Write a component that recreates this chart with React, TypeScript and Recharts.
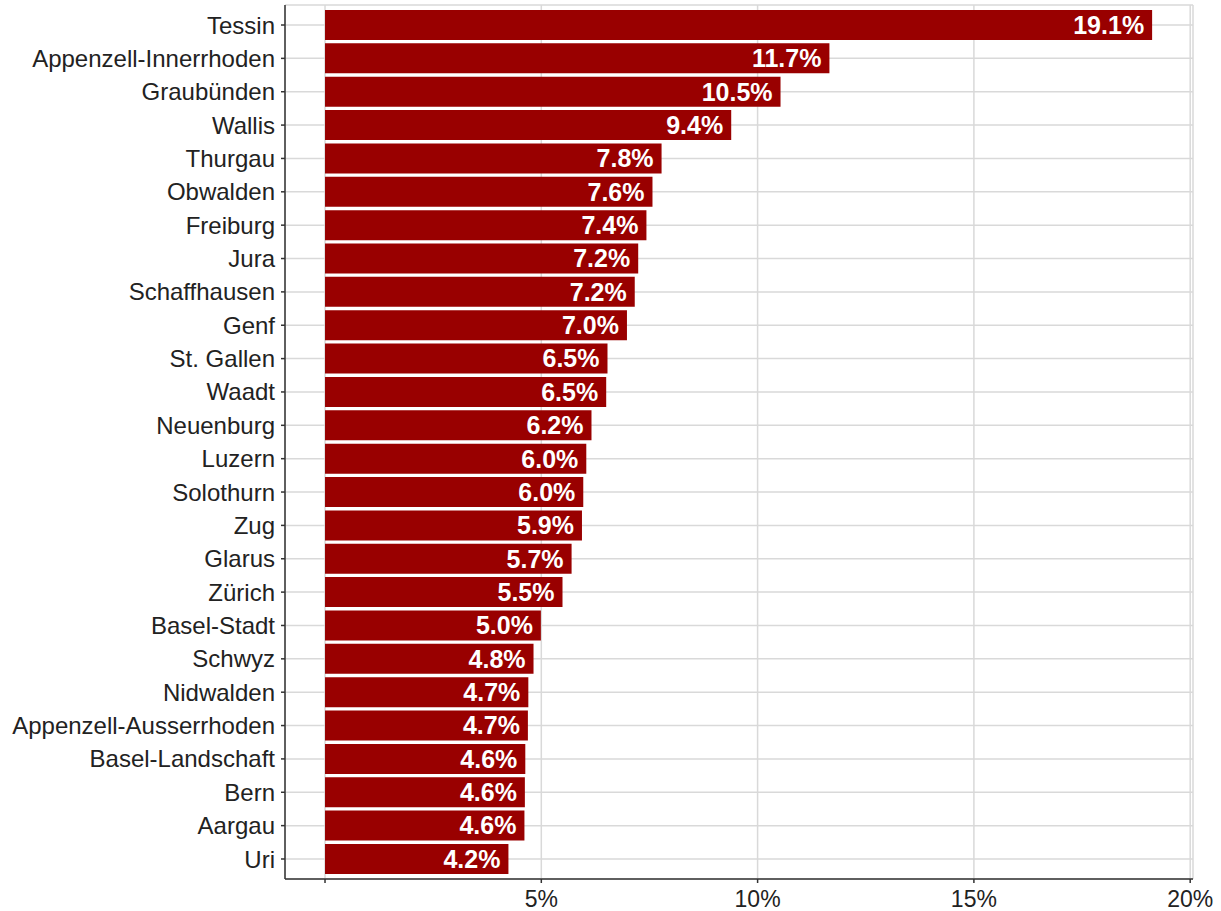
import React from 'react';
import { BarChart, Bar, XAxis, YAxis, CartesianGrid, LabelList } from 'recharts';

const cantons = [
  'Tessin', 'Appenzell-Innerrhoden', 'Graubünden', 'Wallis', 'Thurgau', 'Obwalden',
  'Freiburg', 'Jura', 'Schaffhausen', 'Genf', 'St. Gallen', 'Waadt', 'Neuenburg',
  'Luzern', 'Solothurn', 'Zug', 'Glarus', 'Zürich', 'Basel-Stadt', 'Schwyz',
  'Nidwalden', 'Appenzell-Ausserrhoden', 'Basel-Landschaft', 'Bern', 'Aargau', 'Uri',
];

const shares = [
  19.12, 11.66, 10.53, 9.39, 7.78, 7.57,
  7.43, 7.24, 7.16, 6.98, 6.53, 6.5, 6.16,
  6.04, 5.97, 5.94, 5.7, 5.49, 4.99, 4.82,
  4.7, 4.69, 4.63, 4.62, 4.61, 4.24,
];

const xTicks = [0, 5, 10, 15, 20];

const data = cantons.map((name, i) => ({ name, value: shares[i] }));

const FONT = '"Liberation Sans", Arial, sans-serif';

export default function App() {
  return (
    <div style={{ position: 'absolute', left: 0, top: 0, width: 1221, height: 911, background: '#fff' }}>
      <BarChart
        width={1221}
        height={911}
        data={data}
        layout="vertical"
        margin={{ top: 5, right: 28, bottom: 0, left: 0 }}
        barCategoryGap="5%"
      >
        <CartesianGrid stroke="#d9d9d9" strokeWidth={1.5} />
        <XAxis
          type="number"
          domain={[-0.925, 20.065]}
          allowDataOverflow
          ticks={xTicks}
          interval={0}
          tickFormatter={(v: number) => (v === 0 ? '' : `${v}%`)}
          height={32}
          tickSize={4}
          tickMargin={8}
          axisLine={{ stroke: '#333', strokeWidth: 1.5 }}
          tickLine={{ stroke: '#333', strokeWidth: 1.5 }}
          tick={{ fill: '#222', fontSize: 23, fontFamily: FONT }}
        />
        <YAxis
          type="category"
          dataKey="name"
          width={285}
          interval={0}
          padding={{ top: 3.33, bottom: 3.33 }}
          tickSize={4}
          tickMargin={6}
          axisLine={{ stroke: '#333', strokeWidth: 1.5 }}
          tickLine={{ stroke: '#333', strokeWidth: 1.5 }}
          tick={{ fill: '#222', fontSize: 24, fontFamily: FONT }}
        />
        <Bar dataKey="value" fill="#990000" isAnimationActive={false}>
          <LabelList
            dataKey="value"
            position="insideRight"
            offset={8}
            formatter={(v: number) => `${v.toFixed(1)}%`}
            style={{ fill: '#fff', fontWeight: 'bold', fontSize: 25, fontFamily: FONT }}
          />
        </Bar>
      </BarChart>
    </div>
  );
}
